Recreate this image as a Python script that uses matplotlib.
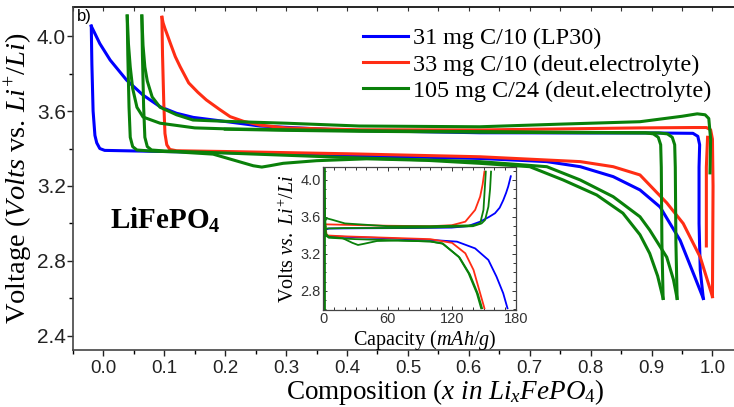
import matplotlib
matplotlib.use('Agg')
import matplotlib.pyplot as plt
from matplotlib.ticker import MultipleLocator
from matplotlib.lines import Line2D

plt.rcParams['mathtext.fontset'] = 'custom'
plt.rcParams['mathtext.rm'] = 'Liberation Serif'
plt.rcParams['mathtext.it'] = 'Liberation Serif:italic'
plt.rcParams['mathtext.bf'] = 'Liberation Serif:bold'

# ---- main plot: composition x vs voltage ----
blue_dis_x = [-0.020, -0.019, -0.017, -0.014, -0.011, -0.006, 0.002, 0.05, 0.2, 0.4, 0.618, 0.728, 0.783, 0.837, 0.881, 0.914, 0.947, 0.971, 0.985]
blue_dis_v = [4.053, 3.85, 3.60, 3.47, 3.43, 3.40, 3.39, 3.387, 3.378, 3.362, 3.347, 3.33, 3.303, 3.25, 3.179, 3.088, 2.91, 2.715, 2.60]
blue_chg_x = [0.985, 0.980, 0.978, 0.978, 0.979, 0.976, 0.968, 0.90, 0.80, 0.618, 0.40, 0.257, 0.203, 0.1475, 0.12, 0.093, 0.065, 0.038, 0.011, -0.006, -0.015, -0.020]
blue_chg_v = [2.60, 2.75, 3.00, 3.30, 3.42, 3.465, 3.481, 3.483, 3.483, 3.484, 3.497, 3.52, 3.543, 3.566, 3.588, 3.623, 3.685, 3.765, 3.872, 3.96, 4.02, 4.053]

red_dis_x = [0.096, 0.097, 0.099, 0.101, 0.104, 0.109, 0.12, 0.2, 0.4, 0.618, 0.783, 0.837, 0.881, 0.925, 0.952, 0.98, 1.0]
red_dis_v = [4.10, 3.90, 3.65, 3.48, 3.42, 3.395, 3.388, 3.384, 3.372, 3.356, 3.33, 3.303, 3.259, 3.11, 3.00, 2.82, 2.61]
red_chg_x = [1.0, 1.001, 1.000, 0.997, 0.990, 0.97, 0.881, 0.618, 0.42, 0.30, 0.257, 0.23, 0.208, 0.19, 0.169, 0.155, 0.140, 0.126, 0.118, 0.110, 0.104, 0.101, 0.098, 0.096]
red_chg_v = [2.61, 3.20, 3.45, 3.50, 3.512, 3.512, 3.51, 3.499, 3.50, 3.51, 3.525, 3.545, 3.57, 3.61, 3.659, 3.70, 3.75, 3.836, 3.89, 3.96, 4.014, 4.04, 4.07, 4.10]
red_tail_x = [0.990, 0.990, 0.992]
red_tail_v = [2.88, 3.30, 3.46]

green_chg1_x = [0.996, 0.997, 0.994, 0.988, 0.975, 0.95, 0.881, 0.75, 0.618, 0.42, 0.30, 0.20, 0.147, 0.12, 0.093, 0.08, 0.072, 0.068, 0.065, 0.063]
green_chg1_v = [3.27, 3.45, 3.56, 3.58, 3.585, 3.572, 3.543, 3.53, 3.516, 3.52, 3.535, 3.545, 3.552, 3.58, 3.62, 3.675, 3.76, 3.835, 3.95, 4.107]
green_chg2_x = [0.919, 0.917, 0.916, 0.915, 0.911, 0.903, 0.89, 0.80, 0.618, 0.42, 0.30, 0.20, 0.15, 0.093, 0.065, 0.055, 0.048, 0.044, 0.041, 0.039]
green_chg2_v = [2.60, 2.90, 3.30, 3.42, 3.46, 3.478, 3.484, 3.486, 3.49, 3.495, 3.50, 3.505, 3.51, 3.535, 3.568, 3.62, 3.72, 3.835, 3.96, 4.107]
green_chg3_x = [0.942, 0.940, 0.939, 0.938, 0.934, 0.926, 0.912, 0.80, 0.618, 0.42, 0.30, 0.20]
green_chg3_v = [2.60, 2.90, 3.30, 3.42, 3.46, 3.478, 3.483, 3.484, 3.487, 3.492, 3.497, 3.503]
green_dis1_x = [0.039, 0.040, 0.042, 0.044, 0.048, 0.055, 0.08, 0.12, 0.18, 0.213, 0.246, 0.26, 0.273, 0.295, 0.35, 0.432, 0.53, 0.618, 0.70, 0.755, 0.81, 0.853, 0.881, 0.897, 0.91, 0.919]
green_dis1_v = [4.107, 3.90, 3.62, 3.46, 3.41, 3.392, 3.386, 3.382, 3.37, 3.339, 3.308, 3.301, 3.308, 3.321, 3.335, 3.345, 3.337, 3.321, 3.303, 3.232, 3.152, 3.055, 2.94, 2.84, 2.72, 2.60]
green_dis2_x = [0.063, 0.064, 0.066, 0.068, 0.072, 0.079, 0.10, 0.2, 0.4, 0.618, 0.728, 0.783, 0.837, 0.881, 0.897, 0.925, 0.936, 0.942]
green_dis2_v = [4.107, 3.90, 3.62, 3.46, 3.41, 3.392, 3.387, 3.376, 3.352, 3.33, 3.303, 3.232, 3.143, 3.036, 2.965, 2.82, 2.70, 2.60]

# ---- inset: capacity (mAh/g) vs voltage ----
in_blue_chg_c = [0, 1, 5, 40, 80, 120, 135, 146.7, 155, 160.6, 165, 168.3, 171, 173, 175.4]
in_blue_chg_v = [3.39, 3.46, 3.475, 3.478, 3.48, 3.485, 3.50, 3.549, 3.60, 3.64, 3.70, 3.78, 3.86, 3.93, 4.04]
in_blue_dis_c = [0, 0.5, 2, 20, 60, 79, 100, 125, 142, 154.4, 162, 168.3, 172.3]
in_blue_dis_v = [4.05, 3.50, 3.395, 3.385, 3.37, 3.359, 3.352, 3.333, 3.26, 3.135, 2.955, 2.775, 2.613]
in_red_chg_c = [0, 2, 20, 60, 100, 120, 132.8, 142, 146.7, 149, 150.7]
in_red_chg_v = [3.45, 3.52, 3.515, 3.505, 3.50, 3.51, 3.549, 3.676, 3.82, 3.95, 4.09]
in_red_dis_c = [0, 1, 3, 20, 60, 100, 120.4, 132.8, 140.5, 146.7, 150.7]
in_red_dis_v = [4.09, 3.55, 3.40, 3.39, 3.375, 3.36, 3.32, 3.207, 3.027, 2.775, 2.613]
in_green_chg1_c = [0, 1, 3, 8, 20, 60, 100, 140, 146.7, 149.8, 151, 152]
in_green_chg1_v = [3.40, 3.55, 3.585, 3.57, 3.53, 3.50, 3.50, 3.51, 3.53, 3.676, 3.90, 4.09]
in_green_chg2_c = [0, 2, 20, 60, 100, 140, 148, 151.3, 154.4, 156, 156.9]
in_green_chg2_v = [3.40, 3.475, 3.48, 3.48, 3.485, 3.50, 3.53, 3.567, 3.71, 3.90, 4.09]
in_green_dis1_c = [0, 2, 5, 18, 27, 32.3, 38, 50, 70, 100, 111.1, 126.6, 135.9, 143.6, 147.6]
in_green_dis1_v = [4.10, 3.42, 3.385, 3.37, 3.32, 3.297, 3.31, 3.34, 3.345, 3.335, 3.315, 3.17, 2.99, 2.775, 2.613]
in_green_dis2_c = [0, 2, 5, 30, 60, 100, 112, 127.5, 137, 144.5, 148.5]
in_green_dis2_v = [4.10, 3.40, 3.375, 3.36, 3.35, 3.335, 3.31, 3.16, 2.98, 2.77, 2.613]
in_green_vert_c = [0, 0]
in_green_vert_v = [2.60, 4.12]

labels = ['31 mg C/10 (LP30)', '33 mg C/10 (deut.electrolyte)', '105 mg C/24 (deut.electrolyte)']

BLUE = '#0000ff'
RED = '#ff2d14'
GREEN = '#0a800a'

fig = plt.figure(figsize=(7.34, 4.07), dpi=100)
ax = fig.add_axes([73/734, 57/407, 661/734, 343/407])

lw = 2.2
ax.plot(blue_dis_x, blue_dis_v, color=BLUE, lw=lw)
ax.plot(blue_chg_x, blue_chg_v, color=BLUE, lw=lw)
ax.plot(red_dis_x, red_dis_v, color=RED, lw=lw)
ax.plot(red_chg_x, red_chg_v, color=RED, lw=lw)
ax.plot(red_tail_x, red_tail_v, color=RED, lw=lw)
for xs, vs in [(green_chg1_x, green_chg1_v), (green_chg2_x, green_chg2_v), (green_chg3_x, green_chg3_v),
               (green_dis1_x, green_dis1_v), (green_dis2_x, green_dis2_v)]:
    ax.plot(xs, vs, color=GREEN, lw=lw)

ax.set_xlim(-0.05, 1.0354)
ax.set_ylim(2.325, 4.155)
ax.xaxis.set_major_locator(MultipleLocator(0.1))
ax.xaxis.set_minor_locator(MultipleLocator(0.05))
ax.yaxis.set_major_locator(MultipleLocator(0.4))
ax.yaxis.set_minor_locator(MultipleLocator(0.2))
ax.tick_params(axis='x', which='major', direction='out', length=4, width=1, pad=3,
               labelsize=13.5, labelfontfamily='Liberation Sans', colors='#222222')
ax.tick_params(axis='x', which='minor', direction='out', length=3, width=1)
ax.tick_params(axis='y', which='major', direction='out', length=4, width=1, pad=1,
               labelsize=15, labelfontfamily='Liberation Sans', colors='#222222')
ax.tick_params(axis='y', which='minor', direction='out', length=3, width=1)
ax.spines['right'].set_visible(False)
ax.spines['top'].set_visible(False)
for s in ['left', 'bottom']:
    ax.spines[s].set_color('#444444')
    ax.spines[s].set_linewidth(1.2)

top = ax.secondary_xaxis('top')
top.xaxis.set_major_locator(MultipleLocator(0.05))
top.tick_params(direction='in', length=3, width=0.8, labeltop=False, colors='#333333')
top.spines['top'].set_linewidth(1.2)

ax.set_xlabel(r'Composition ($\mathit{x\ in\ Li_{x}FePO_{4}}$)', fontfamily='Liberation Serif',
              fontsize=19.5)
ax.xaxis.set_label_coords(0.563, -0.078)
ax.set_ylabel(r'Voltage ($\mathit{Volts}$ vs. $\mathit{Li^{+}/Li}$)', fontfamily='Liberation Serif',
              fontsize=20.5, labelpad=1)

ax.text(0.006, 0.995, 'b)', transform=ax.transAxes, fontsize=12,
        fontfamily='Liberation Sans', va='top', ha='left')
ax.text(0.056, 0.379, r'$\mathbf{LiFePO_4}$', transform=ax.transAxes, fontsize=21,
        va='center', ha='left')

handles = [Line2D([], [], color=c, lw=2.2) for c in (BLUE, RED, GREEN)]
ax.legend(handles, labels, loc='upper left', bbox_to_anchor=(0.4387, 0.94), frameon=False,
          prop={'family': 'Liberation Serif', 'size': 17.4}, handlelength=1.85, handletextpad=0.2,
          labelspacing=0.17, borderpad=0, borderaxespad=0)

# ---- inset ----
axin = fig.add_axes([323/734, 97/407, 192.7/734, 143/407])
axin.set_facecolor('white')
ilw = 1.3
axin.plot(in_blue_chg_c, in_blue_chg_v, color=BLUE, lw=ilw)
axin.plot(in_blue_dis_c, in_blue_dis_v, color=BLUE, lw=ilw)
axin.plot(in_red_chg_c, in_red_chg_v, color=RED, lw=ilw)
axin.plot(in_red_dis_c, in_red_dis_v, color=RED, lw=ilw)
for cs, vs in [(in_green_chg1_c, in_green_chg1_v), (in_green_chg2_c, in_green_chg2_v),
               (in_green_dis1_c, in_green_dis1_v), (in_green_dis2_c, in_green_dis2_v)]:
    axin.plot(cs, vs, color=GREEN, lw=ilw)
axin.plot(in_green_vert_c, in_green_vert_v, color=GREEN, lw=2.0)

axin.set_xlim(-0.5, 180)
axin.set_ylim(2.594, 4.14)
axin.xaxis.set_major_locator(MultipleLocator(60))
axin.xaxis.set_minor_locator(MultipleLocator(10))
axin.yaxis.set_major_locator(MultipleLocator(0.4))
axin.yaxis.set_minor_locator(MultipleLocator(0.1))
axin.tick_params(which='both', direction='in', top=True, right=True, width=0.7,
                 labelsize=10.5, labelfontfamily='Liberation Sans', pad=1.5, colors='#333333')
axin.tick_params(which='major', length=3)
axin.tick_params(which='minor', length=2)
for s in axin.spines.values():
    s.set_color('#444444')
    s.set_linewidth(0.9)
axin.set_xlabel(r'Capacity ($\mathit{mAh/g}$)', fontfamily='Liberation Serif', fontsize=14.5)
axin.xaxis.set_label_coords(0.53, -0.125)
axin.set_ylabel(r'Volts $\mathit{vs.}$ $\mathit{Li^{+}/Li}$', fontfamily='Liberation Serif', fontsize=14.5,
                labelpad=1)

fig.savefig('out.png', dpi=100)
